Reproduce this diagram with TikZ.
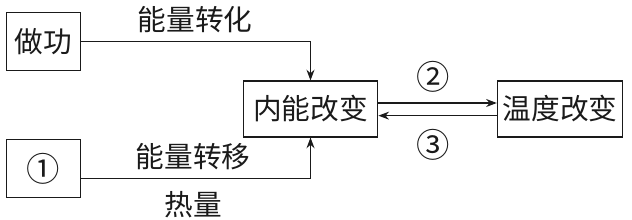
\documentclass[tikz,border=0pt]{standalone}
\usepackage{fontspec}
\setmainfont{Noto Sans CJK SC}
\usepackage{tikz}
\usetikzlibrary{arrows.meta, positioning, calc}
\definecolor{inkblack}{HTML}{1A1A1A}

\begin{document}
\begin{tikzpicture}[x=0.75pt, y=-0.75pt, >={Stealth[length=8pt, width=6pt]},
    every node/.style={text=inkblack, font=\fontsize{21.5}{24}\selectfont},
    circled/.style={font=\fontsize{25}{28}\selectfont},
    box/.style={draw=inkblack, line width=0.85pt, inner sep=0pt},
    link/.style={draw=inkblack, line width=0.85pt}]
  \useasboundingbox (0,0) rectangle (632,220);
  % boxes
  \node[box, minimum width=56pt, minimum height=43pt] (work) at (43.5, 41.5) {做功};
  \node[box, circled, minimum width=56pt, minimum height=43pt] (heat) at (43.5, 168.5) {①};
  \node[box, minimum width=101pt, minimum height=42pt] (inner) at (310.5, 109) {内能改变};
  \node[box, minimum width=94pt, minimum height=42pt] (temp) at (560, 109) {温度改变};
  % connectors
  \draw[link, ->] (work.east) -| (inner.north);
  \draw[link, ->] ([yshift=-7.5pt]heat.east) -| (inner.south);
  \draw[link, ->] ([yshift=4.5pt]inner.east) -- ([yshift=4.5pt]temp.west);
  \draw[link, ->] ([yshift=-5pt]temp.west) -- ([yshift=-5pt]inner.east);
  % labels
  \node (convert) at (195, 20) {能量转化};
  \node (transfer) at (193, 157) {能量转移};
  \node (heatq) at (193, 205) {热量};
  \node[circled] (two) at (433, 77) {②};
  \node[circled] (three) at (433, 145) {③};
\end{tikzpicture}
\end{document}
